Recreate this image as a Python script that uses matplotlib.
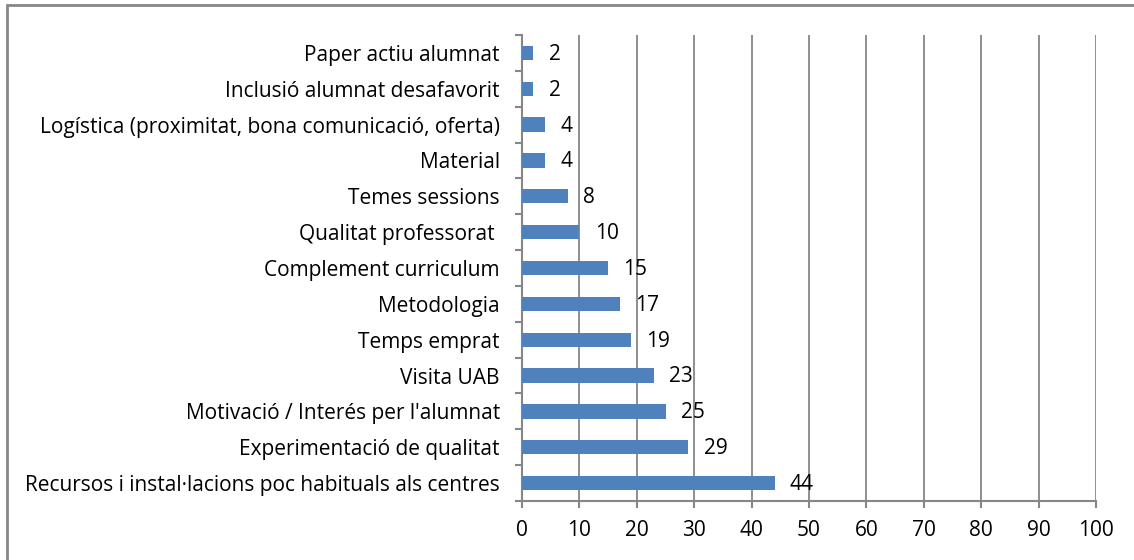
import matplotlib.pyplot as plt
import matplotlib.patches as patches
import numpy as np

# categories from bottom to top
labels = ["Recursos i instal·lacions poc habituals als centres",
          "Experimentació de qualitat",
          "Motivació / Interés per l'alumnat",
          "Visita UAB",
          "Temps emprat",
          "Metodologia",
          "Complement curriculum",
          "Qualitat professorat ",
          "Temes sessions",
          "Material",
          "Logística (proximitat, bona comunicació, oferta)",
          "Inclusió alumnat desafavorit",
          "Paper actiu alumnat"]
values = [44, 29, 25, 23, 19, 17, 15, 10, 8, 4, 4, 2, 2]
xticks = list(range(0, 101, 10))

plt.rcParams['font.family'] = ['Open Sans', 'DejaVu Sans']

fig = plt.figure(figsize=(11.34, 5.6), dpi=100)
ax = fig.add_axes([522/1134, 1 - 501/560, (1096 - 522)/1134, (501 - 35)/560])

y = np.arange(len(labels))
ax.barh(y, values, height=0.4, color='#4F81BD', zorder=3)
for yi, v in zip(y, values):
    ax.annotate(str(v), (v, yi), xytext=(11, -1), textcoords='offset points',
                va='center', ha='left', fontsize=15, color='black')

ax.set_xlim(0, 100)
ax.set_ylim(-0.5, len(labels) - 0.5)
ax.set_xticks(xticks)
ax.set_yticks(y)
ax.set_yticklabels(labels)
ax.set_yticks(np.arange(-0.5, len(labels), 1), minor=True)
ax.tick_params(axis='y', which='major', length=0, pad=16, labelsize=15)
ax.tick_params(axis='y', which='minor', length=5, width=1.5, color='#868686', direction='out')
ax.tick_params(axis='x', length=5, width=1.5, color='#868686', pad=9, labelsize=15)

ax.grid(axis='x', color='#868686', linewidth=1.3, zorder=0)
for s in ['top', 'right']:
    ax.spines[s].set_visible(False)
for s in ['left', 'bottom']:
    ax.spines[s].set_color('#868686')
    ax.spines[s].set_linewidth(1.5)

# outer chart frame
fig.patches.append(patches.Rectangle((7/1134, -0.05), 1.2, 1 - 5/560 + 0.05,
                                     transform=fig.transFigure, fill=False,
                                     edgecolor='#868686', linewidth=2))

fig.savefig('out.png', dpi=100)
